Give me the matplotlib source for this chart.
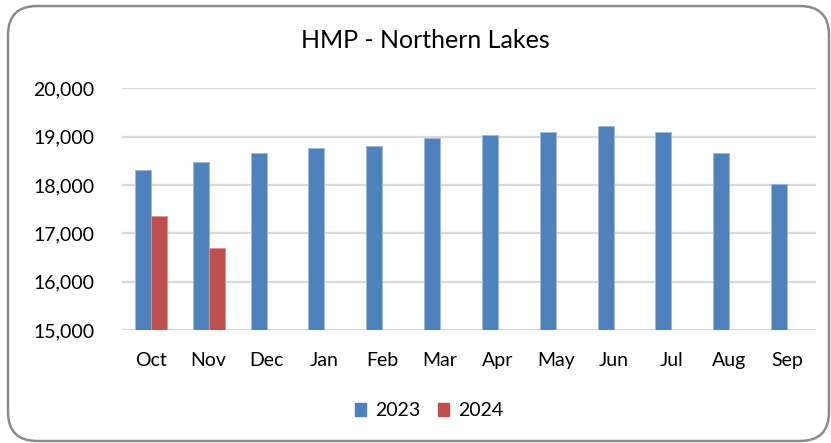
import matplotlib
matplotlib.use("Agg")
import matplotlib.pyplot as plt
from matplotlib.patches import FancyBboxPatch, Patch
import numpy as np

months = ["Oct", "Nov", "Dec", "Jan", "Feb", "Mar", "Apr", "May", "Jun", "Jul", "Aug", "Sep"]
hmp_2023 = [18310, 18480, 18665, 18775, 18810, 18980, 19040, 19105, 19215, 19100, 18660, 18030]
hmp_2024 = [17350, 16700]
yticks = [15000, 16000, 17000, 18000, 19000, 20000]

plt.rcParams['font.family'] = ['Lato', 'DejaVu Sans']

fig = plt.figure(figsize=(8.31, 4.43), dpi=100)
# rounded border
border = FancyBboxPatch((8/831, 2/443), (829-8)/831, (437-2)/443,
                        boxstyle="round,pad=0,rounding_size=0.035",
                        transform=fig.transFigure, facecolor="white",
                        edgecolor="#8c8c8c", linewidth=1.8, zorder=-5,
                        mutation_aspect=831/443)
fig.patches.append(border)

ax = fig.add_axes([122/831, (443-330)/443, (816-122)/831, (330-88.3)/443])
ax.set_facecolor("none")
x = np.arange(len(months))
w = 0.277
ax.bar(x - w/2, hmp_2023, width=w, color="#4F81BD", edgecolor="#9fb8db", linewidth=0.6, label="2023", zorder=3)
ax.bar(x[:len(hmp_2024)] + w/2, hmp_2024, width=w, color="#C0504D", edgecolor="#d99694", linewidth=0.6, label="2024", zorder=3)

ax.set_ylim(15000, 20000)
ax.set_xlim(-0.5, len(months) - 0.5)
ax.set_yticks(yticks)
ax.set_yticklabels([f"{v:,}" for v in yticks])
ax.set_xticks(x)
ax.set_xticklabels(months)
ax.tick_params(axis="both", length=0, labelsize=14, colors="black")
ax.tick_params(axis="y", pad=20)
ax.tick_params(axis="x", pad=16)
ax.grid(axis="y", color="#d9d9d9", linewidth=1.6, zorder=0)
for s in ax.spines.values():
    s.set_visible(False)

fig.text(425/831, 1 - 41/443, "HMP - Northern Lakes", ha="center", va="center", fontsize=18)

handles = [Patch(color="#4F81BD"), Patch(color="#C0504D")]
fig.legend(handles, ["2023", "2024"], loc="center", bbox_to_anchor=(429/831, 1 - 411/443),
           ncol=2, frameon=False, fontsize=14, handlelength=0.6, handleheight=0.6,
           handletextpad=0.45, columnspacing=0.9)

fig.savefig("out.png", dpi=100)
